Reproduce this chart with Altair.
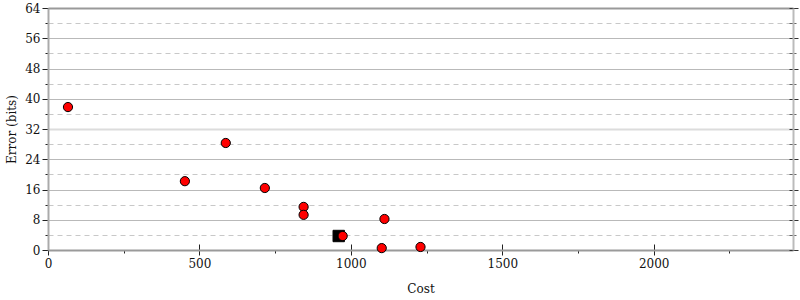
import altair as alt
import pandas as pd

# Data
cost = [66, 452, 587, 716, 844, 844, 973, 1102, 1111, 1230]
error = [37.8, 18.2, 28.3, 16.4, 11.4, 9.3, 3.7, 0.5, 8.2, 0.8]
best_cost = [960]
best_error = [3.7]

x_ticks = [0, 250, 500, 750, 1000, 1250, 1500, 1750, 2000, 2250]
y_ticks = [0, 4, 8, 12, 16, 20, 24, 28, 32, 36, 40, 44, 48, 52, 56, 60, 64]
x_max = 2460
y_max = 64

pts = pd.DataFrame({"cost": cost, "error": error})
best = pd.DataFrame({"cost": best_cost, "error": best_error})

FONT = "'DejaVu Serif', 'Liberation Serif', serif"

xscale = alt.Scale(domain=[0, x_max], nice=False, zero=True)
yscale = alt.Scale(domain=[0, y_max], nice=False, zero=True)

major8 = "datum.value % 8 === 0"
major500 = "datum.value % 500 === 0"

x_bottom = alt.Axis(
    orient="bottom", values=x_ticks, grid=False, title="Cost", format="d",
    labelExpr=f"{major500} ? datum.label : ''",
    tickSize={"condition": {"test": major500, "value": 5}, "value": 3},
    tickColor="#222222", domainColor="#9a9a9a", domainWidth=2,
    labelFont=FONT, labelFontSize=12, labelColor="#111111", labelPadding=3,
    titleFont=FONT, titleFontSize=12, titleFontWeight="normal", titleColor="#111111",
    titlePadding=14, labelFlush=False, labelOverlap=False,
)
x_bottom_inner = alt.Axis(
    orient="bottom", values=x_ticks, grid=False, title=None, labels=False,
    domain=False, offset=-6, tickSize=6,
    tickColor={"condition": {"test": major500, "value": "#222222"}, "value": "#555555"},
    tickOpacity={"condition": {"test": major500, "value": 1}, "value": 0},
)
y_left = alt.Axis(
    orient="left", values=y_ticks, title="Error (bits)", format="d",
    grid=True,
    gridColor={"condition": [{"test": "datum.value === 32", "value": "#dcdcdc"},
                             {"test": major8, "value": "#b9b9b9"}],
               "value": "#c8c8c8"},
    gridDash={"condition": {"test": major8, "value": []}, "value": [5, 4]},
    gridWidth={"condition": {"test": "datum.value === 32", "value": 2}, "value": 1},
    labelExpr=f"{major8} ? datum.label : ''",
    tickSize={"condition": {"test": major8, "value": 6}, "value": 3},
    tickColor="#222222", domainColor="#aaaaaa", domainWidth=2,
    labelFont=FONT, labelFontSize=12, labelColor="#111111", labelPadding=2,
    titleFont=FONT, titleFontSize=12, titleFontWeight="normal", titleColor="#111111",
    titlePadding=6, labelOverlap=False,
)
x_top = alt.Axis(
    orient="top", values=x_ticks, grid=False, title=None, labels=False, ticks=False,
    domainColor="#999999", domainWidth=2,
)
y_right_ticks = alt.Axis(
    orient="right", values=y_ticks, grid=False, title=None, labels=False,
    domain=False, offset=-4,
    tickSize={"condition": {"test": major8, "value": 9}, "value": 7},
    tickColor={"condition": {"test": major8, "value": "#333333"}, "value": "#666666"},
)
y_right_domain = alt.Axis(
    orient="right", values=y_ticks, grid=False, title=None, labels=False,
    ticks=False, domainColor="#bbbbbb", domainWidth=2,
)

square = alt.Chart(best).mark_square(
    size=130, color="black", stroke="black", strokeWidth=1, opacity=1
).encode(
    x=alt.X("cost:Q", scale=xscale, axis=x_top),
    y=alt.Y("error:Q", scale=yscale, axis=y_right_ticks),
)

helper = alt.Chart(pts).mark_circle(opacity=0).encode(
    x=alt.X("cost:Q", scale=xscale, axis=x_bottom_inner),
    y=alt.Y("error:Q", scale=yscale, axis=y_right_domain),
)

circles = alt.Chart(pts).mark_circle(
    size=85, color="#ff0000", stroke="black", strokeWidth=1, opacity=1
).encode(
    x=alt.X("cost:Q", scale=xscale, axis=x_bottom),
    y=alt.Y("error:Q", scale=yscale, axis=y_left),
)

chart = alt.layer(square, helper, circles).resolve_axis(
    x="independent", y="independent"
).properties(
    width=745, height=242,
    autosize=alt.AutoSizeParams(type="none"),
    padding={"left": 48, "top": 8, "right": 7, "bottom": 50},
).configure(font=FONT).configure_view(stroke=None)

chart.save("out.html", embed_options={"renderer": "svg", "actions": False})
